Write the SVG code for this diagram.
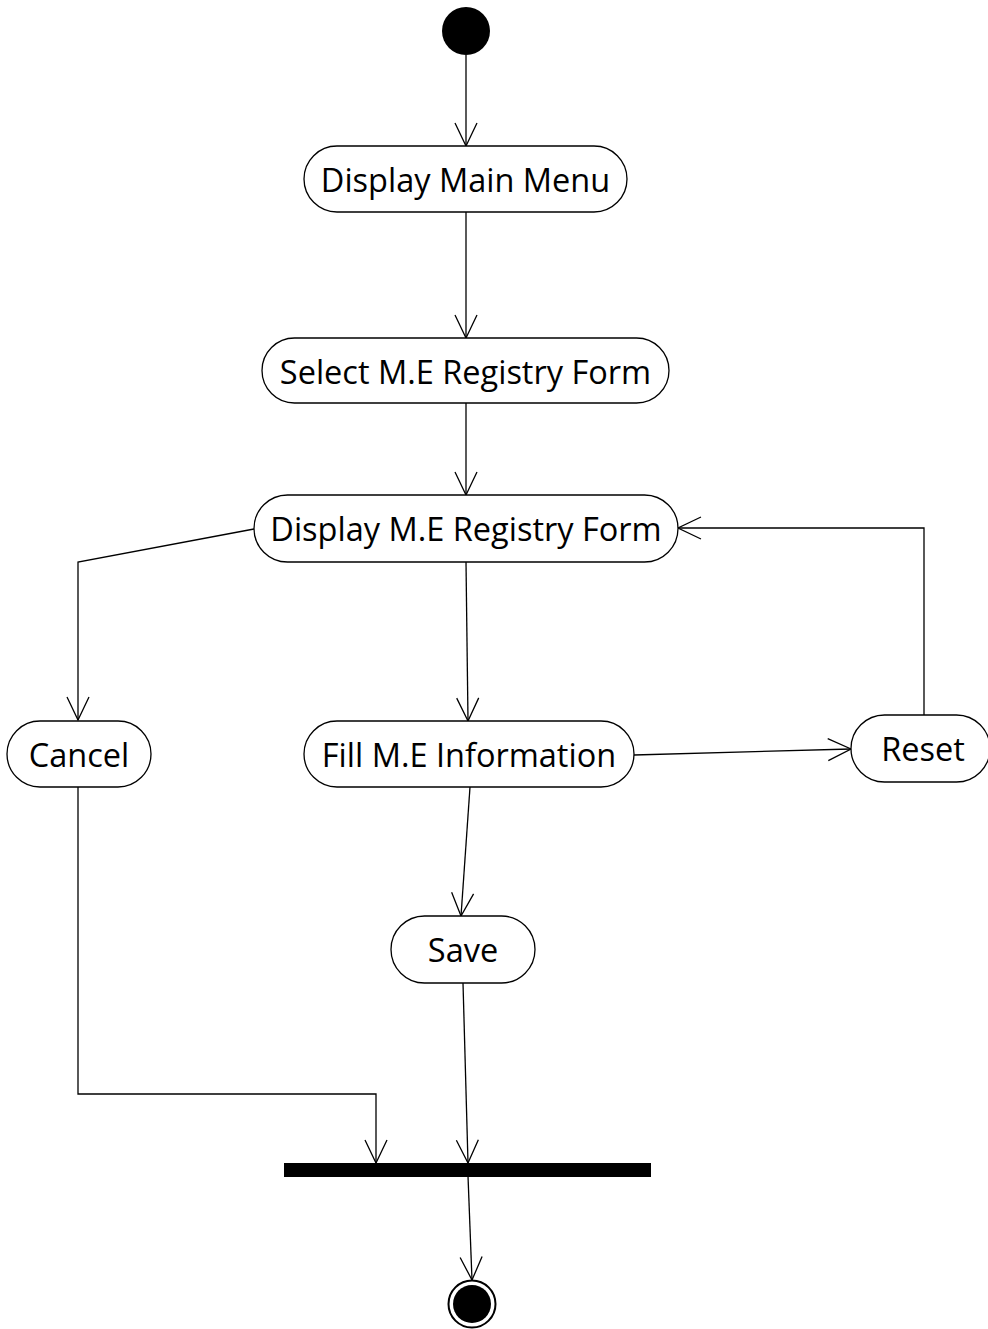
<svg xmlns="http://www.w3.org/2000/svg" width="988" height="1329" viewBox="0 0 988 1329">
  <style>
    .act { fill: #ffffff; stroke: #000000; stroke-width: 1.3; }
    .lbl { font-family: "Open Sans", "Liberation Sans", sans-serif; font-size: 32.5px; fill: #000000; text-anchor: middle; dominant-baseline: central; }
    .flow { fill: none; stroke: #000000; stroke-width: 1.3; marker-end: url(#open); }
  </style>
  <defs>
    <marker id="open" markerUnits="userSpaceOnUse" viewBox="-24 -13 26 26" refX="0" refY="0" markerWidth="26" markerHeight="26" orient="auto" overflow="visible">
      <path d="M-23,-11 L0,0 L-23,11" fill="none" stroke="#000000" stroke-width="1.3"/>
    </marker>
  </defs>

  <!-- control flows -->
  <g id="connectors">
    <path class="flow" d="M466,55 L466,146"/>
    <path class="flow" d="M466,212 L466,338"/>
    <path class="flow" d="M466,403 L466,495"/>
    <path class="flow" d="M254,529 L78,562 L78,720"/>
    <path class="flow" d="M466,562 L468,721"/>
    <path class="flow" d="M634,755 L851,749"/>
    <path class="flow" d="M924,715 L924,528 L678,528"/>
    <path class="flow" d="M470,787 L461,916"/>
    <path class="flow" d="M78,787 L78,1094 L376,1094 L376,1163"/>
    <path class="flow" d="M463,983 L468,1163"/>
    <path class="flow" d="M468,1176 L472,1280"/>
  </g>

  <g id="start">
    <circle cx="466" cy="31" r="24" fill="#000000"/>
  </g>

  <g id="display-main-menu">
    <rect class="act" x="304" y="146" width="323" height="66" rx="33" ry="33"/>
    <text class="lbl" x="465.5" y="179">Display Main Menu</text>
  </g>

  <g id="select-registry-form">
    <rect class="act" x="262" y="338" width="407" height="65" rx="32.5" ry="32.5"/>
    <text class="lbl" x="465.5" y="371">Select M.E Registry Form</text>
  </g>

  <g id="display-registry-form">
    <rect class="act" x="254" y="495" width="424" height="67" rx="33.5" ry="33.5"/>
    <text class="lbl" x="466" y="528">Display M.E Registry Form</text>
  </g>

  <g id="cancel">
    <rect class="act" x="7" y="721" width="144" height="66" rx="33" ry="33"/>
    <text class="lbl" x="79" y="754">Cancel</text>
  </g>

  <g id="fill-information">
    <rect class="act" x="304" y="721" width="330" height="66" rx="33" ry="33"/>
    <text class="lbl" x="469" y="754">Fill M.E Information</text>
  </g>

  <g id="reset">
    <rect class="act" x="851" y="715" width="139" height="67" rx="33.5" ry="33.5"/>
    <text class="lbl" x="923" y="748">Reset</text>
  </g>

  <g id="save">
    <rect class="act" x="391" y="916" width="144" height="67" rx="33.5" ry="33.5"/>
    <text class="lbl" x="463" y="949">Save</text>
  </g>

  <g id="join">
    <rect x="284" y="1163" width="367" height="14" fill="#000000"/>
  </g>

  <g id="end">
    <circle cx="472" cy="1304" r="23.5" fill="#ffffff" stroke="#000000" stroke-width="2"/>
    <circle cx="472" cy="1304" r="19" fill="#000000"/>
  </g>
</svg>
